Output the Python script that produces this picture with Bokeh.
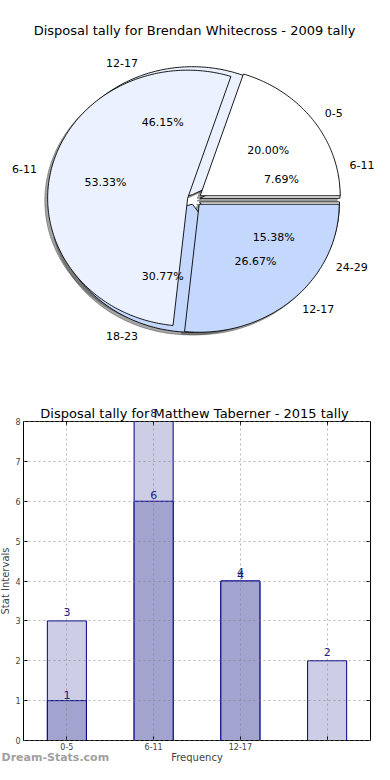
import numpy as np
from bokeh.plotting import figure
from bokeh.models import Range1d, ColumnDataSource, LabelSet, FixedTicker, LinearAxis
from bokeh.layouts import column
from bokeh.embed import file_html
from bokeh.resources import INLINE
from bokeh.core.properties import value

FONT = "DejaVu Sans"

# ---------------- data ----------------
pie_title = "Disposal tally for Brendan Whitecross - 2009 tally"
pie1_labels = ["0-5", "6-11", "12-17"]
pie1_values = [3, 8, 4]
pie2_labels = ["6-11", "12-17", "18-23", "24-29"]
pie2_values = [1, 6, 4, 2]

bar_title = "Disposal tally for Matthew Taberner - 2015 tally"
bar_categories = ["0-5", "6-11", "12-17", ""]
bar_light = [3, 8, 4, 2]
bar_dark = [1, 6, 4]
y_ticks = [0, 1, 2, 3, 4, 5, 6, 7, 8]
watermark = "Dream-Stats.com"

# ---------------- styles / geometry ----------------
PIE_COLORS = ["#ffffff", "#ebf1fe", "#c4d8fe"]
EXPLODE1 = 0.05
EXPLODE2 = 0.04
SHADOW = (-0.02, -0.02)
W = 374
H1, H2 = 390, 374
RX, RY = 140.0, 128.0       # px per data unit in the pie figure
CX, CY = 194.0, 199.0       # pie centre in figure pixels


def wedges(values, explode):
    vals = np.asarray(values, dtype=float)
    bounds = np.concatenate([[0.0], np.cumsum(vals / vals.sum())]) * 2 * np.pi
    out = []
    for i in range(len(vals)):
        a0, a1 = bounds[i], bounds[i + 1]
        mid = 0.5 * (a0 + a1)
        ox, oy = explode * np.cos(mid), explode * np.sin(mid)
        t = np.linspace(a0, a1, int(np.degrees(a1 - a0)) + 2)
        xs = np.concatenate([[ox], ox + np.cos(t), [ox]])
        ys = np.concatenate([[oy], oy + np.sin(t), [oy]])
        out.append(dict(xs=xs, ys=ys, mid=mid, ox=ox, oy=oy,
                        pct=100.0 * vals[i] / vals.sum()))
    return out


p1 = figure(width=W, height=H1, output_backend="svg", toolbar_location=None,
            x_range=Range1d(-CX / RX, (W - CX) / RX),
            y_range=Range1d(-(H1 - CY) / RY, CY / RY),
            x_axis_type=None, y_axis_type=None, min_border=0)
p1.outline_line_color = None
p1.grid.visible = False

w1 = wedges(pie1_values, EXPLODE1)
w2 = wedges(pie2_values, EXPLODE2)

for w in w2 + w1:
    p1.patch(w["xs"] + SHADOW[0], w["ys"] + SHADOW[1], fill_color="#4d4d4d",
             fill_alpha=0.5, line_color="#4d4d4d", line_alpha=0.5, line_width=1)
for ws in (w2, w1):
    p1.patches([list(w["xs"]) for w in ws], [list(w["ys"]) for w in ws],
               fill_color=[PIE_COLORS[i % 3] for i in range(len(ws))],
               line_color="black", line_width=0.9)

for ws, labs in ((w1, pie1_labels), (w2, pie2_labels)):
    for w, lab in zip(ws, labs):
        c, s = np.cos(w["mid"]), np.sin(w["mid"])
        p1.text(x=[w["ox"] + 1.1 * c], y=[w["oy"] + 1.1 * s], text=[lab],
                text_align="left" if c > 0 else "right", text_baseline="middle",
                text_font=value(FONT), text_font_size="11px", text_color="black")
        p1.text(x=[w["ox"] + 0.6 * c], y=[w["oy"] + 0.6 * s], text=["%.2f%%" % w["pct"]],
                text_align="center", text_baseline="middle",
                text_font=value(FONT), text_font_size="11px", text_color="black")

p1.text(x=[0.0], y=[(CY - 30) / RY], text=[pie_title], text_align="center",
        text_baseline="middle", text_font=value(FONT), text_font_size="13px",
        text_color="black")

# ---------------- bar chart ----------------
L, R = 23.0, 370.0          # spine pixels (x)
T, B = 31.0, 350.0          # spine pixels (y) inside the 2nd figure
n = len(bar_categories)
XMIN, XMAX = -0.5, n - 0.5
YMIN, YMAX = 0, y_ticks[-1]
SX = (R - L) / (XMAX - XMIN)
SY = (B - T) / (YMAX - YMIN)

p2 = figure(width=W, height=H2, output_backend="svg", toolbar_location=None,
            x_range=Range1d(XMIN - L / SX, XMAX + (W - R) / SX),
            y_range=Range1d(YMIN - (H2 - B) / SY, YMAX + T / SY),
            min_border=0)
p2.outline_line_color = None

xpos = list(range(n))
light_src = ColumnDataSource(dict(x=xpos, top=bar_light, label=[str(v) for v in bar_light]))
dark_src = ColumnDataSource(dict(x=xpos[:len(bar_dark)], top=bar_dark,
                                 label=[str(v) for v in bar_dark]))
p2.vbar(x="x", top="top", width=0.45, source=light_src, fill_color="#cdcde6",
        line_color="#00008b", line_width=1)
p2.vbar(x="x", top="top", width=0.45, source=dark_src, fill_color="#a3a3cf",
        line_color="#00008b", line_width=1)

p2.add_layout(LabelSet(x="x", y="top", text="label", source=light_src, y_offset=5,
                       text_align="center", text_baseline="bottom", text_font=value(FONT),
                       text_font_size="11px", text_color="#1a1a80"))
p2.add_layout(LabelSet(x="x", y="top", text="label", source=dark_src, y_offset=2,
                       text_align="center", text_baseline="bottom", text_font=value(FONT),
                       text_font_size="11px", text_color="#1a1a80"))

xt = FixedTicker(ticks=xpos)
yt = FixedTicker(ticks=y_ticks)
xa, ya = p2.xaxis[0], p2.yaxis[0]
xa.ticker = xt
ya.ticker = yt
xa.fixed_location = YMIN
ya.fixed_location = XMIN
xa.bounds = (XMIN, XMAX)
ya.bounds = (YMIN, YMAX)
xa.major_label_overrides = {i: c for i, c in enumerate(bar_categories)}
for ax in (xa, ya):
    ax.major_tick_in = 4
    ax.major_tick_out = 0
    ax.minor_tick_line_color = None
    ax.axis_line_color = "black"
    ax.major_label_text_font = FONT
    ax.major_label_text_font_size = "8px"
    ax.axis_label_text_font = FONT
    ax.axis_label_text_font_size = "10px"
    ax.axis_label_text_font_style = "normal"
ya.major_label_standoff = 3
ya.axis_label_standoff = 1
xa.major_label_standoff = 2
xa.axis_label_standoff = -1
xa.axis_label = "Frequency"
ya.axis_label = "Stat Intervals"

# mirrored spines with inward ticks (no labels)
p2.add_layout(LinearAxis(ticker=yt, fixed_location=XMAX, bounds=(YMIN, YMAX),
                         axis_line_color="black", minor_tick_line_color=None,
                         major_tick_in=4, major_tick_out=0,
                         major_label_text_color=None), "right")
p2.add_layout(LinearAxis(ticker=xt, fixed_location=YMAX, bounds=(XMIN, XMAX),
                         axis_line_color="black", minor_tick_line_color=None,
                         major_tick_in=4, major_tick_out=0,
                         major_label_text_color=None), "above")

p2.xgrid[0].cross_bounds = (YMIN, YMAX)
p2.ygrid[0].cross_bounds = (XMIN, XMAX)
for g in (p2.xgrid[0], p2.ygrid[0]):
    g.grid_line_color = "#808080"
    g.grid_line_alpha = 0.55
    g.grid_line_dash = "2 3"
    g.level = "overlay"

p2.text(x=[XMIN + (194 - L) / SX], y=[YMAX + (T - 23) / SY], text=[bar_title],
        text_align="center", text_baseline="middle", text_font=value(FONT),
        text_font_size="13px", text_color="black")
p2.text(x=[XMIN - (L - 1) / SX], y=[YMIN - (367 - B) / SY], text=[watermark],
        text_align="left", text_baseline="middle", text_font=value(FONT),
        text_font_size="11px", text_font_style="bold", text_color="#a0a0a0")

layout = column(p1, p2)
open("out.html", "w").write(file_html(layout, INLINE))
